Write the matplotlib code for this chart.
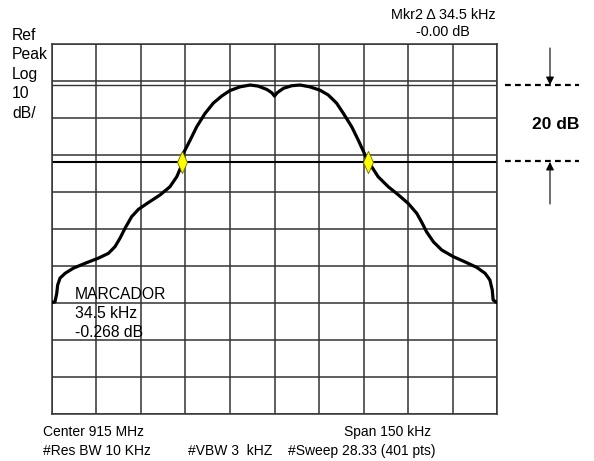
import matplotlib
matplotlib.use("Agg")
import matplotlib.pyplot as plt
from matplotlib.path import Path

plt.rcParams['font.family'] = ['Liberation Sans', 'DejaVu Sans']

# ---- data (frequency offset in kHz, level in dB relative to top of screen) ----
freq_khz = [-75.0, -73.9, -73.3, -73.0, -72.2, -70.5, -67.7, -63.8, -59.3, -55.9,
            -53.7, -52.0, -50.3, -48.1, -45.8, -42.5, -38.5, -35.2, -32.9, -31.2,
            -30.7, -28.4, -26.2, -23.4, -20.6, -17.8, -15.0, -11.6, -8.2, -5.5,
            -2.6, -0.9, 0.0, 0.9, 3.0, 5.8, 8.6, 11.9, 15.3, 18.1,
            20.9, 23.2, 26.0, 28.2, 31.0, 31.6, 34.9, 38.3, 41.7, 45.0,
            47.9, 49.5, 51.2, 53.5, 56.3, 60.2, 64.1, 68.1, 70.9, 72.5,
            73.3, 73.6, 74.8, 75.0]
level_db = [-69.8, -69.6, -67.3, -65.1, -63.2, -61.9, -60.5, -59.2, -57.8, -56.5,
            -54.7, -52.4, -49.7, -46.6, -44.6, -42.8, -40.7, -38.5, -35.8, -32.6,
            -29.5, -25.9, -22.3, -18.7, -15.9, -14.0, -12.5, -11.5, -11.0, -11.3,
            -12.2, -13.1, -14.0, -13.1, -11.9, -11.2, -11.0, -11.5, -12.4, -13.7,
            -15.9, -18.7, -22.3, -25.9, -30.8, -31.7, -35.8, -38.5, -40.7, -43.0,
            -45.7, -48.0, -50.7, -53.4, -55.6, -57.4, -58.8, -60.3, -61.9, -63.7,
            -66.4, -69.1, -69.8, -69.8]

marker_khz = [-31.0, 31.6]
marker_db = [-31.7, -31.7]
ref_line_db = -11.0
marker_line_db = -31.7

x_ticks = [-75, -60, -45, -30, -15, 0, 15, 30, 45, 60, 75]
y_ticks = [0, -10, -20, -30, -40, -50, -60, -70, -80, -90, -100]

W, H = 594, 461
fig = plt.figure(figsize=(W / 100, H / 100), dpi=100)
fig.patch.set_facecolor('white')

# main screen axes
x0, x1, y0, y1 = 51.7, 497.3, 44.3, 414.3
ax = fig.add_axes([x0 / W, 1 - y1 / H, (x1 - x0) / W, (y1 - y0) / H])
ax.set_xlim(-75, 75)
ax.set_ylim(-100, 0)
ax.set_xticks(x_ticks)
ax.set_yticks(y_ticks)
ax.tick_params(length=0, labelbottom=False, labelleft=False)
ax.grid(True, color='#333333', lw=1.1)
for s in ax.spines.values():
    s.set_color('#333333')
    s.set_linewidth(1.1)

ax.axhline(ref_line_db, color='#333333', lw=1.0)
ax.axhline(marker_line_db, color='black', lw=1.5)

ax.plot(freq_khz, level_db, color='black', lw=2.3, solid_joinstyle='round',
        solid_capstyle='round', zorder=5)

diamond = Path([(0, 1), (0.45, 0), (0, -1), (-0.45, 0), (0, 1)],
               [Path.MOVETO, Path.LINETO, Path.LINETO, Path.LINETO, Path.CLOSEPOLY])
ax.plot(marker_khz, marker_db, linestyle='none', marker=diamond, markersize=16,
        markerfacecolor='#ffff00', markeredgecolor='#6b6b00', markeredgewidth=0.6,
        zorder=6)

# overlay in pixel coordinates for annotations
ov = fig.add_axes([0, 0, 1, 1], facecolor='none')
ov.set_xlim(0, W)
ov.set_ylim(H, 0)
ov.axis('off')

fs = 11.3
for i, t in enumerate(['Ref', 'Peak', 'Log', '10', 'dB/']):
    ov.text(12, 35 + i * 19.5, t, fontsize=fs, va='center', ha='left')

ov.text(443, 15, 'Mkr2 \u0394 34.5 kHz', fontsize=10.4, ha='center', va='center')
ov.text(443, 32, '-0.00 dB', fontsize=10.4, ha='center', va='center')

ov.text(75, 294, 'MARCADOR', fontsize=fs, ha='left', va='center')
ov.text(75, 313, '34.5 kHz', fontsize=fs, ha='left', va='center')
ov.text(75, 332, '-0.268 dB', fontsize=fs, ha='left', va='center')

bfs = 10
ov.text(43, 432, 'Center 915 MHz', fontsize=bfs, ha='left', va='center')
ov.text(43, 451, '#Res BW 10 KHz', fontsize=bfs, ha='left', va='center')
ov.text(431, 432, 'Span 150 kHz', fontsize=bfs, ha='right', va='center')
ov.text(188, 451, '#VBW 3  kHZ', fontsize=bfs, ha='left', va='center')
ov.text(435, 451, '#Sweep 28.33 (401 pts)', fontsize=bfs, ha='right', va='center')

# 20 dB indicator
ov.plot([505, 579], [85, 85], color='black', lw=1.6, dashes=(2.6, 1.9))
ov.plot([505, 579], [161.5, 161.5], color='black', lw=1.6, dashes=(2.6, 1.9))
ov.annotate('', xy=(550, 85), xytext=(550, 48),
            arrowprops=dict(arrowstyle='-|>', color='black', lw=0.8,
                            mutation_scale=12, shrinkA=0, shrinkB=0))
ov.annotate('', xy=(550, 162), xytext=(550, 204),
            arrowprops=dict(arrowstyle='-|>', color='black', lw=0.8,
                            mutation_scale=12, shrinkA=0, shrinkB=0))
ov.text(556, 124, '20 dB', fontsize=12.5, fontweight='bold', ha='center', va='center')

fig.savefig('out.png', dpi=100, facecolor='white')
